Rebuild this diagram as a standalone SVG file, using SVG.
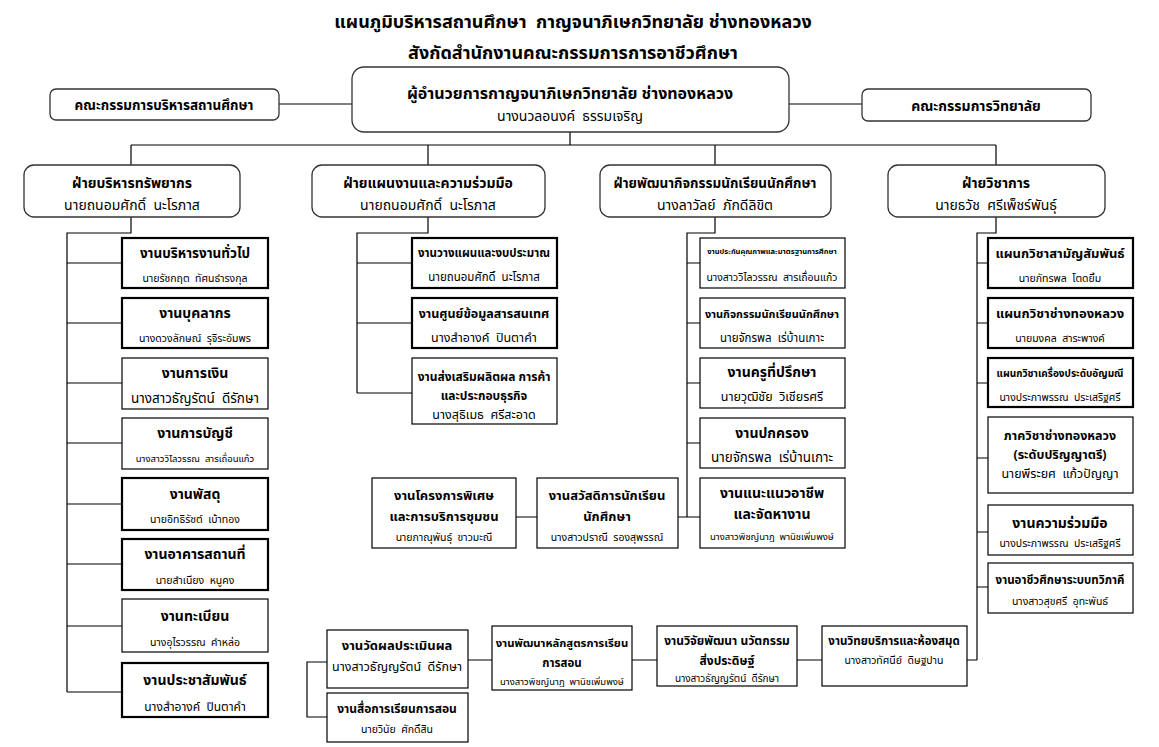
<svg xmlns="http://www.w3.org/2000/svg" width="1159" height="747" viewBox="0 0 1159 747">
<style>
text{font-family:"Noto Sans Thai","Noto Sans","DejaVu Sans",sans-serif;fill:#000;text-anchor:middle;white-space:pre}
.b{font-weight:bold}
.rb{fill:#fff;stroke:#333;stroke-width:1.3}
.bx{fill:#fff;stroke:#000;stroke-width:1.2}
.bk{fill:#fff;stroke:#000;stroke-width:2.2}
.ln{fill:none;stroke:#000;stroke-width:1.2}
</style>
<rect width="1159" height="747" fill="#fff"/>
<g id="title">
<text class="b" x="573" y="28" font-size="18">แผนภูมิบริหารสถานศึกษา &#160;กาญจนาภิเษกวิทยาลัย ช่างทองหลวง</text>
<text class="b" x="573" y="59" font-size="18">สังกัดสำนักงานคณะกรรมการการอาชีวศึกษา</text>
</g>
<g id="connectors">
<path class="ln" d="M279 104H352M789 104H862"/>
<path class="ln" d="M570 132V145M131 145H996M131 145V165M428 145V165M715 145V165M996 145V165"/>
<path class="ln" d="M131 217V233H67V692M67 263H122M67 323H122M67 383H122M67 443H122M67 504H122M67 564H122M67 626H122M67 692H122"/>
<path class="ln" d="M428 217V233H357V393M357 263H412M357 323H412M357 393H412"/>
<path class="ln" d="M715 217V233H687V517M687 263H700M687 323H700M687 383H700M687 443H700M678 517H700M516 517H537"/>
<path class="ln" d="M996 217V233H977V660M977 263H988M977 323H988M977 383H988M977 458H988M977 532H988M977 587H988M967 660H977"/>
<path class="ln" d="M797 660H822M632 660H657M468 660H492M327 662H307V717H327"/>
</g>
<g id="n-director"><rect class="rb" x="352" y="67" width="437" height="65" rx="12"/><text class="b" x="570" y="99" font-size="16">ผู้อำนวยการกาญจนาภิเษกวิทยาลัย ช่างทองหลวง</text><text x="570" y="121" font-size="14">นางนวลอนงค์ &#160;ธรรมเจริญ</text></g>
<g id="n-board1"><rect class="rb" x="50" y="89" width="229" height="31" rx="6"/><text class="b" x="164" y="110" font-size="13.5">คณะกรรมการบริหารสถานศึกษา</text></g>
<g id="n-board2"><rect class="rb" x="862" y="89" width="229" height="32" rx="6"/><text class="b" x="976" y="111" font-size="14">คณะกรรมการวิทยาลัย</text></g>
<g id="n-div1"><rect class="rb" x="24" y="165" width="216" height="52" rx="10"/><text class="b" x="132" y="188" font-size="14">ฝ่ายบริหารทรัพยากร</text><text x="132" y="210" font-size="14">นายถนอมศักดิ์ &#160;นะโรภาส</text></g>
<g id="n-div2"><rect class="rb" x="312" y="165" width="233" height="52" rx="10"/><text class="b" x="428" y="188" font-size="14">ฝ่ายแผนงานและความร่วมมือ</text><text x="428" y="210" font-size="14">นายถนอมศักดิ์ &#160;นะโรภาส</text></g>
<g id="n-div3"><rect class="rb" x="600" y="165" width="231" height="52" rx="10"/><text class="b" x="715" y="188" font-size="13.5">ฝ่ายพัฒนากิจกรรมนักเรียนนักศึกษา</text><text x="715" y="210" font-size="14">นางลาวัลย์ &#160;ภักดีลิขิต</text></g>
<g id="n-div4"><rect class="rb" x="888" y="165" width="217" height="52" rx="10"/><text class="b" x="996" y="188" font-size="14">ฝ่ายวิชาการ</text><text x="996" y="210" font-size="14">นายธวัช &#160;ศรีเพ็ชร์พันธุ์</text></g>
<g id="n-l1"><rect class="bk" x="122" y="238" width="146" height="50"/><text class="b" x="195" y="258" font-size="13.5">งานบริหารงานทั่วไป</text><text x="195" y="282" font-size="10.5">นายรัชกฤต &#160;ทัศนธำรงกุล</text></g>
<g id="n-l2"><rect class="bk" x="122" y="298" width="146" height="50"/><text class="b" x="195" y="318" font-size="14">งานบุคลากร</text><text x="195" y="342" font-size="10.5">นางดวงลักษณ์ &#160;รุจิระอัมพร</text></g>
<g id="n-l3"><rect class="bx" x="122" y="358" width="146" height="51"/><text class="b" x="195" y="378" font-size="14">งานการเงิน</text><text x="195" y="403" font-size="13.5">นางสาวธัญรัตน์ &#160;ดีรักษา</text></g>
<g id="n-l4"><rect class="bx" x="122" y="418" width="146" height="51"/><text class="b" x="195" y="438" font-size="14">งานการบัญชี</text><text x="195" y="462" font-size="9.5">นางสาววิไลวรรณ &#160;สารเถื่อนแก้ว</text></g>
<g id="n-l5"><rect class="bk" x="122" y="478" width="146" height="52"/><text class="b" x="195" y="499" font-size="14">งานพัสดุ</text><text x="195" y="523" font-size="10.5">นายอิทธิรัชต์ &#160;เบ้าทอง</text></g>
<g id="n-l6"><rect class="bk" x="122" y="539" width="146" height="51"/><text class="b" x="195" y="559" font-size="14">งานอาคารสถานที่</text><text x="195" y="584" font-size="10.5">นายสำเนียง &#160;หนูคง</text></g>
<g id="n-l7"><rect class="bx" x="122" y="599" width="146" height="53"/><text class="b" x="195" y="621" font-size="14">งานทะเบียน</text><text x="195" y="646" font-size="10.5">นางอุไรวรรณ &#160;คำหล่อ</text></g>
<g id="n-l8"><rect class="bk" x="122" y="663" width="146" height="54"/><text class="b" x="195" y="685" font-size="14">งานประชาสัมพันธ์</text><text x="195" y="711" font-size="12">นางสำอางค์ &#160;ปินตาคำ</text></g>
<g id="n-p1"><rect class="bk" x="412" y="238" width="145" height="50"/><text class="b" x="484" y="257" font-size="11.5">งานวางแผนและงบประมาณ</text><text x="484" y="281" font-size="11.5">นายถนอมศักดิ์ &#160;นะโรภาส</text></g>
<g id="n-p2"><rect class="bk" x="412" y="298" width="145" height="50"/><text class="b" x="484" y="318" font-size="12.5">งานศูนย์ข้อมูลสารสนเทศ</text><text x="484" y="342" font-size="12.5">นางสำอางค์ &#160;ปินตาคำ</text></g>
<g id="n-p3"><rect class="bx" x="412" y="358" width="145" height="66"/><text class="b" x="484" y="381" font-size="12">งานส่งเสริมผลิตผล การค้า</text><text class="b" x="484" y="400" font-size="12">และประกอบธุรกิจ</text><text x="484" y="419" font-size="12.5">นางสุธิเมธ &#160;ศรีสะอาด</text></g>
<g id="n-s1"><rect class="bx" x="700" y="238" width="145" height="50"/><text class="b" x="772" y="254" font-size="7.5">งานประกันคุณภาพและมาตรฐานการศึกษา</text><text x="772" y="281" font-size="10.5">นางสาววิไลวรรณ &#160;สารเถื่อนแก้ว</text></g>
<g id="n-s2"><rect class="bx" x="700" y="298" width="145" height="50"/><text class="b" x="772" y="318" font-size="11">งานกิจกรรมนักเรียนนักศึกษา</text><text x="772" y="342" font-size="11.5">นายจักรพล &#160;เร่บ้านเกาะ</text></g>
<g id="n-s3"><rect class="bx" x="700" y="358" width="145" height="50"/><text class="b" x="772" y="377" font-size="14">งานครูที่ปรึกษา</text><text x="772" y="401" font-size="12.5">นายวุฒิชัย &#160;วิเชียรศรี</text></g>
<g id="n-s4"><rect class="bx" x="700" y="418" width="145" height="50"/><text class="b" x="772" y="438" font-size="14">งานปกครอง</text><text x="772" y="462" font-size="13.5">นายจักรพล &#160;เร่บ้านเกาะ</text></g>
<g id="n-s5"><rect class="bx" x="700" y="478" width="145" height="70"/><text class="b" x="772" y="498" font-size="14">งานแนะแนวอาชีพ</text><text class="b" x="772" y="519" font-size="14">และจัดหางาน</text><text x="772" y="540" font-size="9.5">นางสาวพิชญ์นาฏ &#160;พานิชเพิ่มพงษ์</text></g>
<g id="n-s6"><rect class="bx" x="537" y="478" width="141" height="70"/><text class="b" x="607" y="500" font-size="13">งานสวัสดิการนักเรียน</text><text class="b" x="607" y="521" font-size="13">นักศึกษา</text><text x="607" y="541" font-size="10.5">นางสาวปราณี &#160;รองสุพรรณ์</text></g>
<g id="n-s7"><rect class="bx" x="372" y="478" width="144" height="70"/><text class="b" x="444" y="500" font-size="13">งานโครงการพิเศษ</text><text class="b" x="444" y="521" font-size="13">และการบริการชุมชน</text><text x="444" y="541" font-size="10.5">นายภาณุพันธุ์ &#160;ขาวมะณี</text></g>
<g id="n-a1"><rect class="bk" x="988" y="238" width="145" height="50"/><text class="b" x="1060" y="258" font-size="13">แผนกวิชาสามัญสัมพันธ์</text><text x="1060" y="282" font-size="10.5">นายภัทรพล &#160;โตดยิ้ม</text></g>
<g id="n-a2"><rect class="bk" x="988" y="298" width="145" height="50"/><text class="b" x="1060" y="318" font-size="13">แผนกวิชาช่างทองหลวง</text><text x="1060" y="342" font-size="10.5">นายมงคล &#160;สาระพางค์</text></g>
<g id="n-a3"><rect class="bk" x="988" y="358" width="145" height="49"/><text class="b" x="1060" y="377" font-size="10">แผนกวิชาเครื่องประดับอัญมณี</text><text x="1060" y="401" font-size="10.5">นางประภาพรรณ &#160;ประเสริฐศรี</text></g>
<g id="n-a4"><rect class="bx" x="988" y="417" width="145" height="76"/><text class="b" x="1060" y="440" font-size="12.5">ภาควิชาช่างทองหลวง</text><text class="b" x="1060" y="459" font-size="12.5">(ระดับปริญญาตรี)</text><text x="1060" y="478" font-size="12.5">นายพีระยศ &#160;แก้วปัญญา</text></g>
<g id="n-a5"><rect class="bx" x="988" y="505" width="145" height="50"/><text class="b" x="1060" y="528" font-size="14">งานความร่วมมือ</text><text x="1060" y="547" font-size="10.5">นางประภาพรรณ &#160;ประเสริฐศรี</text></g>
<g id="n-a6"><rect class="bx" x="988" y="563" width="145" height="50"/><text class="b" x="1060" y="584" font-size="11.5">งานอาชีวศึกษาระบบทวิภาคี</text><text x="1060" y="605" font-size="10.5">นางสาวสุขศรี &#160;อุทะพันธ์</text></g>
<g id="n-b1"><rect class="bx" x="327" y="630" width="141" height="58"/><text class="b" x="397" y="650" font-size="13">งานวัดผลประเมินผล</text><text x="397" y="671" font-size="12.5">นางสาวธัญญรัตน์ &#160;ดีรักษา</text></g>
<g id="n-b2"><rect class="bx" x="327" y="693" width="141" height="49"/><text class="b" x="397" y="713" font-size="12">งานสื่อการเรียนการสอน</text><text x="397" y="733" font-size="10.5">นายวินัย &#160;ศักดิ์สิน</text></g>
<g id="n-b3"><rect class="bx" x="492" y="626" width="140" height="64"/><text class="b" x="562" y="647" font-size="11.3">งานพัฒนาหลักสูตรการเรียน</text><text class="b" x="562" y="667" font-size="11.5">การสอน</text><text x="562" y="685" font-size="9.5">นางสาวพิชญ์นาฏ &#160;พานิชเพิ่มพงษ์</text></g>
<g id="n-b4"><rect class="bx" x="657" y="626" width="140" height="60"/><text class="b" x="727" y="645" font-size="12">งานวิจัยพัฒนา นวัตกรรม</text><text class="b" x="727" y="665" font-size="12">สิ่งประดิษฐ์</text><text x="727" y="682" font-size="10">นางสาวธัญญรัตน์ &#160;ดีรักษา</text></g>
<g id="n-b5"><rect class="bx" x="822" y="626" width="145" height="60"/><text class="b" x="894" y="645" font-size="11.5">งานวิทยบริการและห้องสมุด</text><text x="894" y="664" font-size="10.5">นางสาวทัศนีย์ &#160;ดิษฐปาน</text></g>
</svg>
